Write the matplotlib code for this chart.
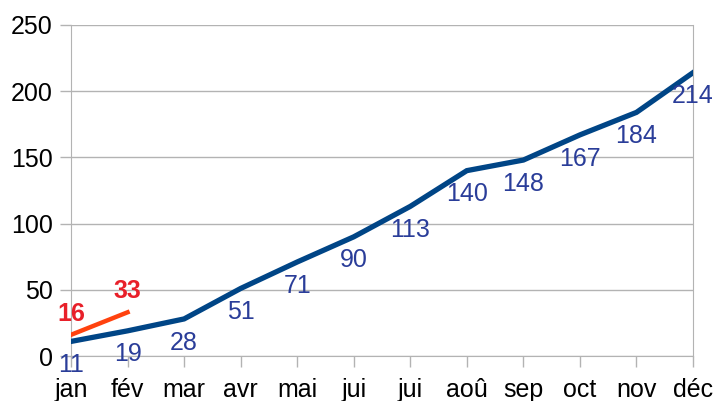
import matplotlib.pyplot as plt

plt.rcParams['font.family'] = ['Liberation Sans', 'DejaVu Sans']

months = ['jan', 'fév', 'mar', 'avr', 'mai', 'jui', 'jui', 'aoû', 'sep', 'oct', 'nov', 'déc']
blue_vals = [11, 19, 28, 51, 71, 90, 113, 140, 148, 167, 184, 214]
red_vals = [16, 33]

blue = '#004586'
blue_txt = '#2a3d99'
red = '#ff420e'
red_txt = '#e8202a'
grid = '#b3b3b3'

fig = plt.figure(figsize=(7.16, 4.01), dpi=100)
ax = fig.add_axes([71/716, 45/401, 622/716, 331/401])

x = list(range(len(months)))
ax.plot(x, blue_vals, color=blue, lw=3.8, solid_joinstyle='miter', zorder=3)
ax.plot(x[:len(red_vals)], red_vals, color=red, lw=3.2, zorder=3)

for xi, v in zip(x, blue_vals):
    ax.annotate(str(v), (xi, v), xytext=(0, -17), textcoords='offset points',
                ha='center', va='center', fontsize=18, color=blue_txt,
                annotation_clip=False, zorder=4)
for xi, v in zip(x, red_vals):
    ax.annotate(str(v), (xi, v), xytext=(0, 15), textcoords='offset points',
                ha='center', va='center', fontsize=18, fontweight='bold',
                color=red_txt, annotation_clip=False, zorder=4)

ax.set_xlim(0, 11)
ax.set_ylim(0, 250)
ax.set_xticks(x)
ax.set_xticklabels(months)
ax.set_yticks(range(0, 251, 50))
ax.yaxis.grid(True, color=grid, lw=1)
ax.set_axisbelow(True)
for s in ['left', 'right', 'bottom']:
    ax.spines[s].set_color(grid)
ax.spines['top'].set_visible(False)
ax.tick_params(axis='both', colors=grid, labelcolor='black', labelsize=18,
               length=8, width=1)
ax.tick_params(axis='x', pad=8)
ax.tick_params(axis='y', pad=5)

fig.savefig('out.png', dpi=100)
